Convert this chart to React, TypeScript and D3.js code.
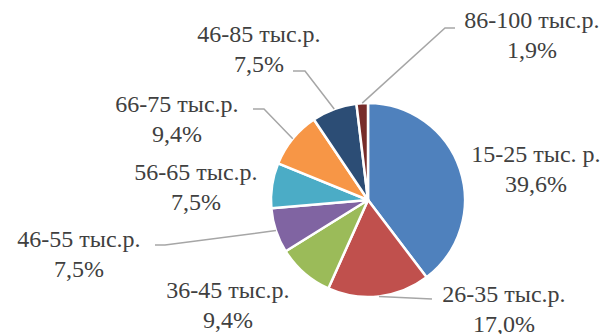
import React from "react";
import * as d3 from "d3";

const categories = [
  "15-25 тыс. р.",
  "26-35 тыс.р.",
  "36-45 тыс.р.",
  "46-55 тыс.р.",
  "56-65 тыс.р.",
  "66-75 тыс.р.",
  "46-85 тыс.р.",
  "86-100 тыс.р.",
];
const values = [39.6, 17.0, 9.4, 7.5, 7.5, 9.4, 7.5, 1.9];
const percentLabels = ["39,6%", "17,0%", "9,4%", "7,5%", "7,5%", "9,4%", "7,5%", "1,9%"];

const colors = ["#4F81BD", "#C0504D", "#9BBB59", "#8064A2", "#4BACC6", "#F79646", "#2C4D75", "#772C2A"];

// label layout: center x, first baseline y, leader points (from label side toward pie)
const labelLayout: { x: number; y: number; leader: [number, number][] | null }[] = [
  { x: 536, y: 162, leader: null },
  { x: 504, y: 302, leader: [[432, 299]] },
  { x: 228, y: 298, leader: null },
  { x: 79, y: 247, leader: [[155, 245], [165, 245]] },
  { x: 196, y: 180, leader: null },
  { x: 177, y: 112, leader: [[253, 109], [264, 109]] },
  { x: 259, y: 42, leader: [[293, 71], [305, 71]] },
  { x: 532, y: 28, leader: [[455, 28], [445, 28]] },
];

const W = 610;
const H = 334;
const CX = 368;
const CY = 200;
const R = 97;
const LINE_GAP = 30;

export default function App() {
  const pie = d3.pie<number>().sort(null).value((d) => d);
  const arcs = pie(values);
  const arcGen = d3.arc<d3.PieArcDatum<number>>().innerRadius(0).outerRadius(R);

  return (
    <div style={{ fontFamily: "Times New Roman" }}>
      <svg width={W} height={H} style={{ position: "absolute", left: 0, top: 0 }}>
        <g transform={`translate(${CX},${CY})`}>
          {arcs.map((a, i) => (
            <path key={i} d={arcGen(a) || ""} fill={colors[i]} stroke="#fff" strokeWidth={2.5} strokeLinejoin="round" />
          ))}
        </g>
        {arcs.map((a, i) => {
          const lay = labelLayout[i];
          if (!lay.leader) return null;
          const mid = (a.startAngle + a.endAngle) / 2;
          const sx = CX + R * Math.sin(mid);
          const sy = CY - R * Math.cos(mid);
          const pts: [number, number][] = [[sx, sy], ...lay.leader.slice().reverse()];
          const line = d3.line();
          return <path key={"l" + i} d={line(pts) || ""} fill="none" stroke="#A6A6A6" strokeWidth={1.5} />;
        })}
        {categories.map((c, i) => {
          const lay = labelLayout[i];
          return (
            <g key={"t" + i} fill="#404040" style={{ fontFamily: "Times New Roman", fontSize: 24 }}>
              <text x={lay.x} y={lay.y} textAnchor="middle">
                {c}
              </text>
              <text x={lay.x} y={lay.y + LINE_GAP} textAnchor="middle">
                {percentLabels[i]}
              </text>
            </g>
          );
        })}
      </svg>
    </div>
  );
}
